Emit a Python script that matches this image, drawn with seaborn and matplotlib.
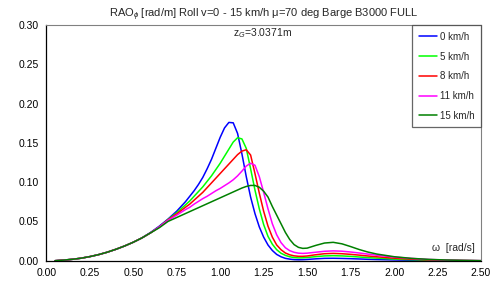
'''
Roll RAO of barge B3000 FULL for several forward speeds (mu = 70 deg)
'''
import matplotlib
matplotlib.use('Agg')
import matplotlib.pyplot as plt
import seaborn as sns

# frequency grid [rad/s]: coarse at low freq, fine around the resonance
omega = ([round(0.05 * i, 3) for i in range(1, 16)]
         + [round(0.8 + 0.025 * i, 3) for i in range(29)]
         + [1.55, 1.6, 1.65, 1.7, 1.75, 1.8, 1.85, 1.9, 2.0, 2.1, 2.2, 2.3, 2.4, 2.5])

rao_0 = [0.0, 0.0008, 0.0018, 0.0032, 0.0052, 0.0077, 0.0108, 0.0145, 0.0187, 0.0235,
         0.029, 0.036, 0.044, 0.053, 0.063,
         0.075, 0.082, 0.089, 0.097, 0.106, 0.117, 0.129, 0.143, 0.157, 0.169,
         0.176, 0.1755, 0.162, 0.136, 0.107, 0.081, 0.060, 0.043, 0.030, 0.020,
         0.013, 0.008, 0.005, 0.003, 0.002, 0.0014, 0.0012, 0.0013, 0.0016,
         0.0024, 0.003, 0.0031, 0.0029, 0.0026, 0.0022, 0.0018, 0.0015, 0.001,
         0.0006, 0.0003, 0.0002, 0.0001, 0.0]
rao_5 = [0.0, 0.0008, 0.0018, 0.0032, 0.0052, 0.0077, 0.0108, 0.0145, 0.0187, 0.0235,
         0.029, 0.0355, 0.043, 0.0525, 0.061,
         0.071, 0.076, 0.082, 0.088, 0.094, 0.101, 0.108, 0.116, 0.124, 0.133,
         0.142, 0.151, 0.1565, 0.155, 0.143, 0.117, 0.090, 0.066, 0.046, 0.031,
         0.021, 0.014, 0.0095, 0.0068, 0.005, 0.004, 0.0036, 0.0037, 0.0041,
         0.0052, 0.0061, 0.0064, 0.0061, 0.0055, 0.0047, 0.004, 0.0033, 0.0021,
         0.0013, 0.0007, 0.0004, 0.0002, 0.0]
rao_8 = [0.0, 0.0008, 0.0018, 0.0032, 0.0052, 0.0077, 0.0108, 0.0145, 0.0187, 0.0235,
         0.029, 0.0355, 0.043, 0.052, 0.0595,
         0.068, 0.072, 0.077, 0.082, 0.087, 0.093, 0.099, 0.105, 0.111, 0.117,
         0.123, 0.129, 0.135, 0.1395, 0.1412, 0.1345, 0.111, 0.086, 0.063, 0.044,
         0.030, 0.020, 0.014, 0.0098, 0.0075, 0.0062, 0.0056, 0.0056, 0.006,
         0.0076, 0.0089, 0.0093, 0.0089, 0.0081, 0.0071, 0.006, 0.005, 0.0032,
         0.002, 0.0011, 0.0005, 0.0002, 0.0]
rao_11 = [0.0, 0.0008, 0.0018, 0.0032, 0.0052, 0.0077, 0.0108, 0.0145, 0.0187, 0.0235,
          0.029, 0.0355, 0.043, 0.0515, 0.058,
          0.065, 0.068, 0.072, 0.0755, 0.079, 0.082, 0.0855, 0.089, 0.092, 0.0955,
          0.099, 0.103, 0.108, 0.114, 0.1205, 0.124, 0.1215, 0.107, 0.087, 0.066,
          0.047, 0.033, 0.023, 0.0165, 0.0128, 0.0107, 0.0096, 0.0093, 0.0096,
          0.0108, 0.012, 0.0125, 0.0121, 0.0111, 0.0098, 0.0084, 0.007, 0.0046,
          0.0029, 0.0016, 0.0008, 0.0003, 0.0]
rao_15 = [0.0, 0.0008, 0.0018, 0.0032, 0.0052, 0.0077, 0.0108, 0.0145, 0.0187, 0.0235,
          0.029, 0.0355, 0.042, 0.050, 0.055,
          0.060, 0.0625, 0.065, 0.0675, 0.070, 0.0725, 0.075, 0.0775, 0.080, 0.0825,
          0.085, 0.0875, 0.090, 0.0925, 0.0945, 0.0958, 0.0958, 0.0935, 0.0885, 0.081,
          0.069, 0.058, 0.047, 0.036, 0.027, 0.0205, 0.017, 0.0157, 0.016,
          0.0195, 0.0225, 0.0234, 0.0215, 0.018, 0.0142, 0.011, 0.0085, 0.0051,
          0.003, 0.0017, 0.0009, 0.0004, 0.0]

speeds = ['0 km/h', '5 km/h', '8 km/h', '11 km/h', '15 km/h']
colors = ['#0000ff', '#00ff00', '#ff0000', '#ff00ff', '#008000']
series = [rao_0, rao_5, rao_8, rao_11, rao_15]

sns.set_style('white')
plt.rcParams['font.family'] = ['Liberation Sans', 'DejaVu Sans']
plt.rcParams['mathtext.fontset'] = 'custom'
plt.rcParams['mathtext.rm'] = 'Liberation Sans'
plt.rcParams['mathtext.it'] = 'Liberation Sans:italic'

fig = plt.figure(figsize=(4.94, 2.84), dpi=100)
ax = fig.add_axes([0.0937, 0.082, 0.88, 0.83])

for label, col, vals in zip(speeds, colors, series):
    sns.lineplot(x=omega, y=vals, ax=ax, color=col, label=label, linewidth=1.1,
                 sort=False, estimator=None)

ax.set_xlim(0, 2.5)
ax.set_ylim(0, 0.30)
ax.set_xticks([i * 0.25 for i in range(11)])
ax.set_yticks([i * 0.05 for i in range(7)])
ax.set_xticklabels([f'{i * 0.25:.2f}' for i in range(11)])
ax.set_yticklabels([f'{i * 0.05:.2f}' for i in range(7)])
ax.tick_params(direction='inout', length=5, width=0.8, labelsize=7.5, pad=3,
               color='black', labelcolor='black')

for side in ['left', 'bottom']:
    ax.spines[side].set_color('black')
    ax.spines[side].set_linewidth(0.9)
for side in ['top', 'right']:
    ax.spines[side].set_color('#808080')
    ax.spines[side].set_linewidth(0.8)

ax.set_xlabel('ω  [rad/s]', fontsize=7.5, ha='right')
ax.xaxis.set_label_coords(0.986, 0.075)
ax.set_ylabel('')

leg = ax.legend(loc='upper right', fontsize=7, frameon=True, fancybox=False,
                borderaxespad=0, handlelength=1.8, handletextpad=0.3,
                labelspacing=1.0, borderpad=0.7)
leg.get_frame().set_edgecolor('#404040')
leg.get_frame().set_linewidth(0.9)

fig.text(0.533, 0.948, r'RAO$_{\phi}$ [rad/m] Roll v=0 - 15 km/h μ=70 deg Barge B3000 FULL',
         ha='center', va='center', fontsize=8)
ax.text(0.497, 0.965, r'z$_G$=3.0371m', transform=ax.transAxes,
        ha='center', va='center', fontsize=7.5)

fig.savefig('out.png', dpi=100)
